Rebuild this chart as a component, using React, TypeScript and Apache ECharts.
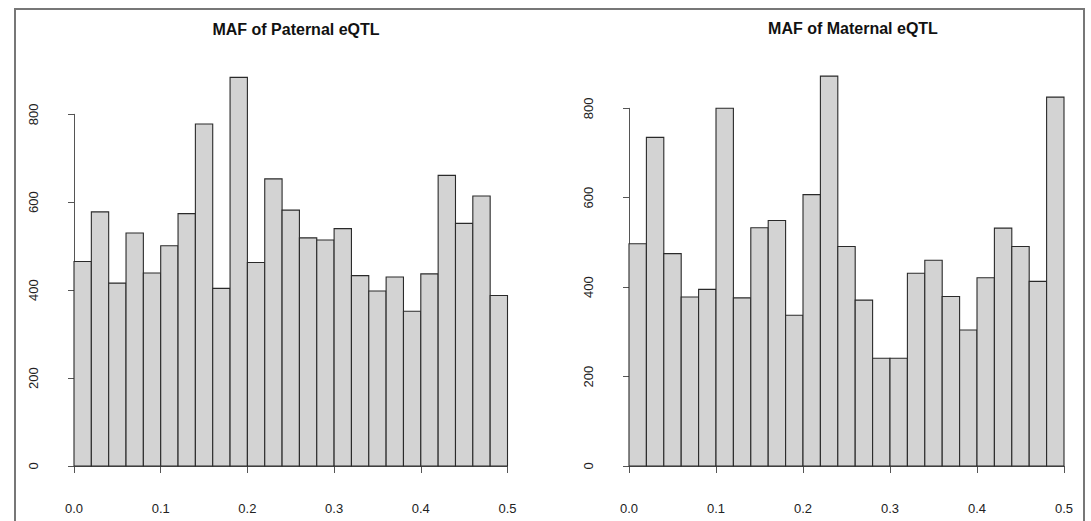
import React, { useEffect, useRef } from "react";
import * as echarts from "echarts";

const binEdges = [0, 0.02, 0.04, 0.06, 0.08, 0.1, 0.12, 0.14, 0.16, 0.18, 0.2, 0.22, 0.24, 0.26, 0.28, 0.3, 0.32, 0.34, 0.36, 0.38, 0.4, 0.42, 0.44, 0.46, 0.48, 0.5];
const paternalCounts = [465, 578, 416, 530, 439, 501, 574, 778, 404, 884, 463, 653, 582, 519, 514, 540, 433, 398, 430, 352, 437, 661, 552, 614, 388];
const maternalCounts = [497, 735, 475, 378, 395, 800, 376, 533, 549, 337, 607, 872, 491, 371, 241, 241, 431, 460, 379, 304, 421, 532, 491, 413, 825];
const titles = ["MAF of Paternal eQTL", "MAF of Maternal eQTL"];

const toBins = (counts: number[]) => counts.map((c, i) => [binEdges[i], binEdges[i + 1], c]);

const renderBar = (params: any, api: any) => {
  const p0 = api.coord([api.value(0), api.value(2)]);
  const p1 = api.coord([api.value(1), 0]);
  return {
    type: "rect",
    shape: { x: p0[0], y: p0[1], width: p1[0] - p0[0], height: p1[1] - p0[1] },
    style: { fill: "#d3d3d3", stroke: "#2a2a2a", lineWidth: 1.1 },
  };
};

const FONT = "Liberation Sans, Arial, sans-serif";
const axisFont = { fontFamily: FONT, fontSize: 13, color: "#222" };

export default function App() {
  const ref = useRef<HTMLDivElement>(null);
  useEffect(() => {
    document.body.style.margin = "0";
    const chart = echarts.init(ref.current!, null, { renderer: "svg" });
    const grids = [
      { left: 74, right: 1091 - 507.5, top: 114.3, bottom: 521 - 466 },
      { left: 629, right: 1091 - 1064, top: 108.3, bottom: 521 - 466 },
    ];
    const xAxes = [0, 1].map((i) => ({
      type: "value",
      gridIndex: i,
      min: 0,
      max: 0.5,
      interval: 0.1,
      offset: 16,
      splitLine: { show: false },
      axisLine: { show: true, lineStyle: { color: "#555", width: 1 } },
      axisTick: { show: true, length: 7, lineStyle: { color: "#555" } },
      axisLabel: { ...axisFont, margin: 20, formatter: (v: number) => v.toFixed(1) },
    }));
    const yAxes = [0, 1].map((i) => ({
      type: "value",
      gridIndex: i,
      min: 0,
      max: 800,
      interval: 200,
      offset: 17.5,
      splitLine: { show: false },
      axisLine: { show: true, lineStyle: { color: "#555", width: 1 } },
      axisTick: { show: true, length: 6, lineStyle: { color: "#555" } },
      axisLabel: { ...axisFont, margin: 17, rotate: 90 },
    }));
    chart.setOption({
      animation: false,
      backgroundColor: "#fff",
      title: [
        { text: titles[0], left: 291, top: 16, textAlign: "center", textStyle: { fontFamily: FONT, fontSize: 16, fontWeight: "bold", color: "#111" } },
        { text: titles[1], left: 848, top: 15, textAlign: "center", textStyle: { fontFamily: FONT, fontSize: 16, fontWeight: "bold", color: "#111" } },
      ],
      grid: grids,
      xAxis: xAxes,
      yAxis: yAxes,
      series: [
        { type: "custom", xAxisIndex: 0, yAxisIndex: 0, data: toBins(paternalCounts), encode: { x: [0, 1], y: 2 }, renderItem: renderBar, clip: false },
        { type: "custom", xAxisIndex: 1, yAxisIndex: 1, data: toBins(maternalCounts), encode: { x: [0, 1], y: 2 }, renderItem: renderBar, clip: false },
      ],
      graphic: [
        {
          type: "polyline",
          shape: { points: [[15, 521], [15, 9], [1084, 9], [1084, 521]] },
          style: { stroke: "#777", lineWidth: 2, fill: null },
          silent: true,
        },
      ],
    });
    return () => chart.dispose();
  }, []);
  return <div ref={ref} style={{ width: 1091, height: 521 }} />;
}
